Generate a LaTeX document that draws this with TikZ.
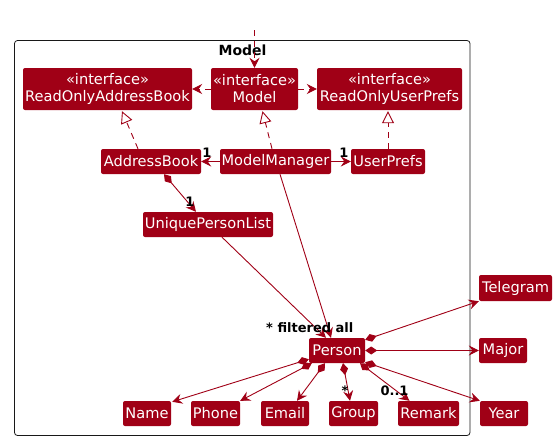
\documentclass[tikz,border=0pt]{standalone}
\usepackage{fontspec}
\setmainfont{DejaVu Sans}
\usetikzlibrary{arrows.meta,calc}
\definecolor{umlred}{RGB}{160,0,22}
\definecolor{framegray}{RGB}{24,24,24}
\tikzset{
  cls/.style={fill=umlred, text=white, rounded corners=2pt, inner sep=0pt,
    minimum height=25pt, font=\fontsize{14.6}{17}\selectfont, align=center},
  iface/.style={cls, minimum height=42pt},
  lbl/.style={text=black, font=\fontsize{13}{15}\selectfont\bfseries, inner sep=0pt},
  link/.style={draw=umlred, line width=0.9pt},
  dep/.style={link, dash pattern=on 6pt off 5pt,
    -{Stealth[length=10pt,width=10pt,inset=3.5pt]}},
  realize/.style={link, dash pattern=on 6pt off 5pt,
    -{Triangle[open,fill=white,length=12pt,width=12pt]}},
  assoc/.style={link, -{Stealth[length=10pt,width=10pt,inset=3.5pt]}},
  compose/.style={link, {Diamond[length=12pt,width=8pt]}-{Stealth[length=10pt,width=10pt,inset=3.5pt]}},
}
\begin{document}
\begin{tikzpicture}[x=1pt,y=-1pt]
\useasboundingbox (0,0) rectangle (559,440);

% package frame
\draw[framegray, line width=0.8pt, rounded corners=3pt] (14.5,40.5) rectangle (470,435.5);
\node[lbl, font=\fontsize{14}{16}\selectfont\bfseries] (pkg) at (242.5,50) {Model};

% interfaces
\node[iface, minimum width=169pt] (roab) at (107.5,89) {«interface»\\ReadOnlyAddressBook};
\node[iface, minimum width=87pt] (model) at (254.5,89) {«interface»\\Model};
\node[iface, minimum width=145pt] (roup) at (389.5,89) {«interface»\\ReadOnlyUserPrefs};

% implementations
\node[cls, minimum width=100pt] (ab) at (151,161.5) {AddressBook};
\node[cls, minimum width=111pt] (mm) at (275.5,161.5) {ModelManager};
\node[cls, minimum width=74pt] (up) at (388,161.5) {UserPrefs};
\node[cls, minimum width=130pt] (upl) at (208,224.5) {UniquePersonList};

% person and its fields
\node[cls, minimum width=56pt] (person) at (337,350.5) {Person};
\node[cls, minimum width=73pt, minimum height=26pt] (telegram) at (515.5,288) {Telegram};
\node[cls, minimum width=48pt] (major) at (503,350.5) {Major};
\node[cls, minimum width=48pt] (year) at (504,413.5) {Year};
\node[cls, minimum width=48pt] (name) at (147,413.5) {Name};
\node[cls, minimum width=49pt] (phone) at (215.5,413.5) {Phone};
\node[cls, minimum width=48pt] (email) at (285,413.5) {Email};
\node[cls, minimum width=49pt] (group) at (353.5,413.5) {Group};
\node[cls, minimum width=61pt] (remark) at (428.5,413.5) {Remark};

% entry into the component
\coordinate (entry) at (254.5,30);
\draw[dep] (entry) -- (model.north);

% interface dependencies
\draw[dep] (model.west) -- (roab.east);
\draw[dep] (model.east) -- (roup.west);

% realizations
\draw[realize] ($(ab.north)+(-13,0)$) -- ($(roab.south)+(14.5,1)$);
\draw[realize] ($(mm.north)+(-3.5,0)$) -- ($(model.south)+(8,1)$);
\draw[realize] (up.north) -- ($(roup.south)+(-1.5,1)$);

% associations
\draw[assoc] (mm.west) -- (ab.east);
\node[lbl] (mab) at (207,153) {1};
\draw[assoc] (mm.east) -- (up.west);
\node[lbl] (mup) at (344,153) {1};
\draw[compose] ($(ab.south)+(13,0)$) -- ($(upl.north)+(-12,0)$);
\node[lbl] (abupl) at (190,202) {1};
\draw[assoc] ($(upl.south)+(14,0)$) -- ($(person.north)+(-11,0)$);
\draw[assoc] ($(mm.south)+(4.5,0)$) -- ($(person.north)+(-6,0)$);
\node[lbl, anchor=west] (plbl) at (266,328) {* filtered all};

% person compositions
\draw[compose] ($(person.north east)+(0,2)$) -- (telegram.south west);
\draw[compose] (person.east) -- (major.west);
\draw[compose] ($(person.south east)+(0,-1)$) -- (year.north west);
\draw[compose] ($(person.south)+(23,0)$) -- ($(remark.north)+(-19,0)$);
\node[lbl] (rmul) at (394.5,391) {0..1};
\draw[compose] ($(person.south)+(6,0)$) -- ($(group.north)+(-3.5,0)$);
\node[lbl] (gmul) at (345,391) {*};
\draw[compose] ($(person.south)+(-12,0)$) -- ($(email.north)+(12,0)$);
\draw[compose] ($(person.south west)+(3,0)$) -- ($(phone.north east)+(0,0)$);
\draw[compose] ($(person.south west)+(0,-4)$) -- ($(name.north east)+(1,1)$);
\end{tikzpicture}
\end{document}
